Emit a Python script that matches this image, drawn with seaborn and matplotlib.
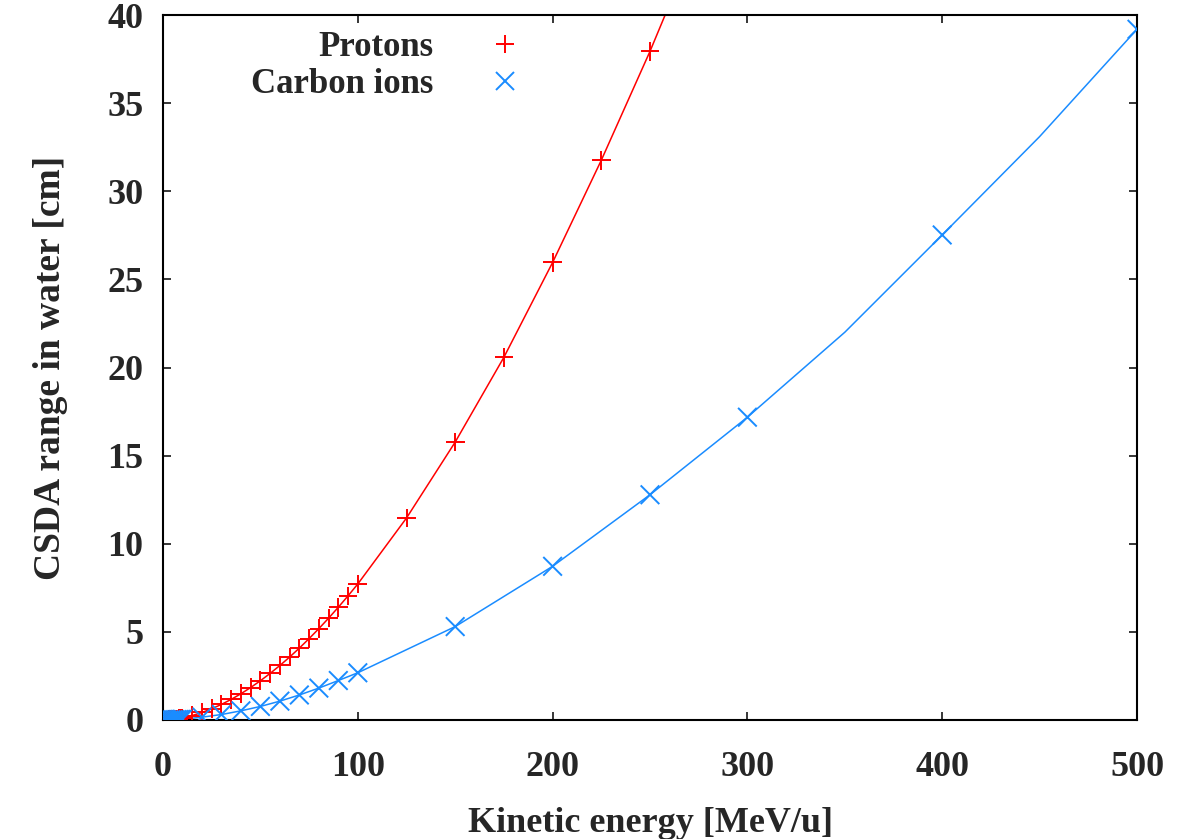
import pandas as pd
import matplotlib
matplotlib.use('Agg')
import matplotlib.pyplot as plt
import seaborn as sns

# proton CSDA range in water (cm) vs kinetic energy (MeV/u)
proton_energy = [1, 2, 3, 4, 5, 6, 7, 8, 9, 10,
                 15, 20, 25, 30, 35, 40, 45, 50, 55, 60,
                 65, 70, 75, 80, 85, 90, 95, 100,
                 125, 150, 175, 200, 225, 250]
proton_range = [0.0025, 0.0076, 0.0151, 0.0250, 0.0362, 0.0497, 0.0647, 0.0812, 0.0991, 0.123,
                0.254, 0.426, 0.637, 0.885, 1.169, 1.489, 1.843, 2.227, 2.645, 3.093,
                3.571, 4.080, 4.618, 5.184, 5.777, 6.398, 7.045, 7.718,
                11.46, 15.77, 20.58, 25.96, 31.76, 37.94]
# curve keeps going past the top of the plot
proton_tail_energy = [275]
proton_tail_range = [44.57]

carbon_energy = [1, 2, 3, 4, 5, 6, 7, 8, 9, 10,
                 20, 30, 40, 50, 60, 70, 80, 90, 100,
                 150, 200, 250, 300, 400, 500]
carbon_range = [0.003, 0.004, 0.006, 0.009, 0.013, 0.018, 0.023, 0.029, 0.036, 0.043,
                0.16, 0.31, 0.52, 0.77, 1.07, 1.42, 1.81, 2.24, 2.68,
                5.30, 8.72, 12.78, 17.18, 27.52, 39.19]
# extra points on the carbon curve (no marker drawn there)
carbon_curve_energy = [350, 450]
carbon_curve_range = [22.0, 33.1]

labels = ['Protons', 'Carbon ions']
colors = {'Protons': '#ff0000', 'Carbon ions': '#1a8cff'}

pts = pd.concat([
    pd.DataFrame({'energy': proton_energy, 'range': proton_range, 'ion': labels[0]}),
    pd.DataFrame({'energy': carbon_energy, 'range': carbon_range, 'ion': labels[1]}),
])
curve = pd.concat([
    pd.DataFrame({'energy': proton_energy + proton_tail_energy,
                  'range': proton_range + proton_tail_range, 'ion': labels[0]}),
    pd.DataFrame({'energy': carbon_energy + carbon_curve_energy,
                  'range': carbon_range + carbon_curve_range, 'ion': labels[1]}),
]).sort_values(['ion', 'energy'])

sns.set_style('ticks')
plt.rcParams['font.family'] = ['Liberation Serif', 'DejaVu Serif']
plt.rcParams['font.weight'] = 'bold'
plt.rcParams['axes.labelweight'] = 'bold'

fig, ax = plt.subplots(figsize=(11.8, 8.39), dpi=100)
fig.subplots_adjust(left=163/1180, right=1137/1180, top=1-15/839, bottom=1-720/839)

sns.lineplot(data=curve, x='energy', y='range', hue='ion', palette=colors,
             sort=False, estimator=None, lw=1.1, legend=False, ax=ax)
sns.scatterplot(data=pts, x='energy', y='range', hue='ion', style='ion',
                palette=colors, markers={'Protons': '+', 'Carbon ions': 'x'},
                s=180, linewidth=1.4, ax=ax, zorder=3)

ax.set_xlim(0, 500)
ax.set_ylim(0, 40)
ax.set_xticks(range(0, 501, 100))
ax.set_yticks(range(0, 41, 5))
ax.tick_params(direction='in', length=6, width=1.3, top=True, right=True,
               labelsize=26)
ax.tick_params(axis='x', pad=22)
ax.tick_params(axis='y', pad=14)
for s in ax.spines.values():
    s.set_linewidth(1.5)
    s.set_color('black')
ax.set_xlabel('Kinetic energy [MeV/u]', fontsize=26, labelpad=17)
ax.set_ylabel('CSDA range in water [cm]', fontsize=27, labelpad=28)

handles, lbls = ax.get_legend_handles_labels()
ax.legend(handles, lbls, loc='upper right', bbox_to_anchor=(0.3614, 0.977),
          frameon=False, markerfirst=False, fontsize=25, borderpad=0,
          borderaxespad=0, handletextpad=1.76, labelspacing=0.12, handlelength=0.6)

fig.savefig('out.png', dpi=100)
